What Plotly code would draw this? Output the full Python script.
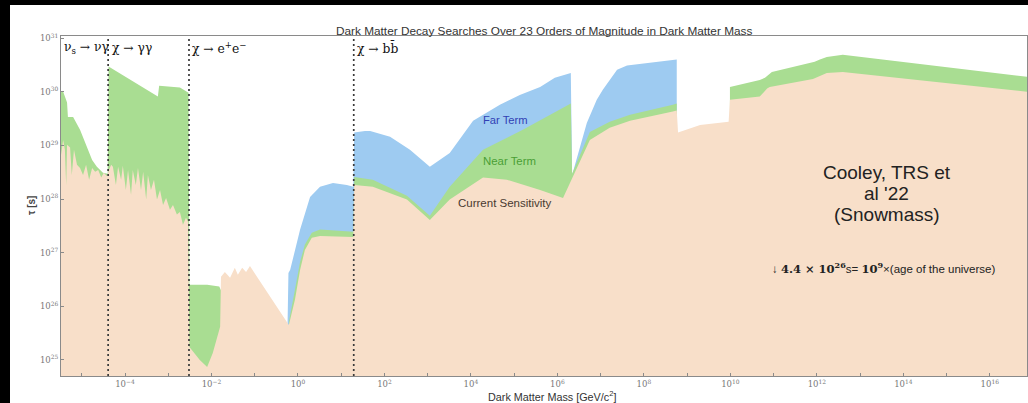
import plotly.graph_objects as go

# Lifetime reach (log10 tau [s]) versus dark matter mass (log10 m [GeV]).
# None separates disconnected pieces of a curve.

current_logm = [
    -5.48, -5.43, -5.39, -5.36, -5.34, -5.27, -5.23, -5.18, -5.11, -5.04,
    -4.97, -4.90, -4.83, -4.76, -4.69, -4.62, -4.55, -4.49, -4.42,
    -4.37, -4.32, -4.28, -4.21, -4.16, -4.09, -4.05, -3.98, -3.93, -3.86,
    -3.82, -3.75, -3.70, -3.63, -3.58, -3.51, -3.47, -3.40, -3.33, -3.26,
    -3.19, -3.12, -3.05, -2.96, -2.89, -2.80, -2.73, -2.66, -2.59, -2.54,
    -2.51, -2.27, -2.10, -1.97, -1.80, -1.78, -1.69, -1.57, -1.46, -1.39,
    -1.29, -1.20, -1.11, -0.21, -0.07, 0.05, 0.16, 0.32, 0.51, 1.20, 1.28,
    1.30, 1.73, 2.52, 3.05, 3.51, 4.28, 4.83, 5.60, 6.13, 6.36, 6.75,
    7.21, 7.68, 8.67, 8.76,
    8.79, 9.30, 9.96, 9.99, 10.68, 10.85, 10.91, 11.91, 12.23, 12.60, 16.86,
]
current_logtau = [
    28.82, 29.10, 28.92, 28.26, 29.01, 28.96, 28.45, 28.92, 28.64, 28.58,
    28.45, 28.64, 28.36, 28.58, 28.51, 28.54, 28.40, 28.49, 28.43,
    28.54, 28.64, 28.60, 28.26, 28.60, 28.36, 28.62, 28.17, 28.54, 28.08,
    28.54, 28.26, 28.58, 28.17, 28.51, 27.99, 28.45, 28.17, 28.36, 27.99,
    28.17, 27.89, 28.02, 27.80, 27.89, 27.71, 27.76, 27.52, 27.65, 27.57,
    25.24, 25.00, 24.87, 25.13, 25.62, 26.55, 26.64, 26.53, 26.72, 26.59,
    26.72, 26.64, 26.75, 25.65, 26.12, 26.68, 27.05, 27.28, 27.31, 27.29, 27.29,
    28.26, 28.23, 27.99, 27.61, 27.99, 28.40, 28.36, 28.17, 28.02, 28.43, 29.10,
    29.33, 29.46, 29.63, 29.65,
    29.24, 29.38, 29.44, 29.85, 29.91, 30.06, 30.09, 30.24, 30.35, 30.37, 30.00,
]

near_logm = [
    -5.48, -5.43, -5.36, -5.34, -5.32, -5.20, -5.04, -4.88, -4.76, -4.65,
    -4.51, -4.40, -4.38, -3.24, -3.21, -2.73, -2.57, -2.53,
    -2.51, -2.10, -1.82, -1.78, None,
    -0.21, -0.07, 0.05, 0.16, 0.32, 0.51, 1.20, 1.28,
    1.30, 1.73, 2.52, 3.05, 3.51, 4.28, 5.20, 5.83, 6.29, 6.31,
    6.34, 6.75, 7.21, 7.68, 8.67, 8.76, None,
    9.99, 10.68, 10.80, 10.96, 11.95, 12.07, 12.23, 12.60, 16.86,
]
near_logtau = [
    30.00, 30.00, 29.85, 29.80, 29.53, 29.53, 29.29, 28.97, 28.73, 28.60,
    28.49, 28.47, 30.47, 29.91, 30.11, 30.08, 30.00, 29.98,
    26.40, 26.40, 26.37, 26.30, None,
    25.71, 26.31, 26.83, 27.15, 27.37, 27.43, 27.39, 27.39,
    28.41, 28.36, 28.06, 27.69, 28.23, 28.92, 29.29, 29.57, 29.76, 29.78,
    28.47, 29.25, 29.44, 29.57, 29.76, 29.78, None,
    30.09, 30.22, 30.26, 30.37, 30.56, 30.60, 30.65, 30.69, 30.28,
]

far_logm = [
    -0.24, -0.22, -0.18, 0.05, 0.28, 0.51, 0.81, 1.13, 1.28,
    1.30, 1.55, 1.67, 2.13, 2.59, 3.05, 3.51, 4.05, 4.67, 5.13, 5.60, 5.94, 6.31,
    6.34, 6.68, 6.91, 7.05, 7.38, 7.61, 8.76,
]
far_logtau = [
    25.70, 26.62, 26.68, 27.43, 28.04, 28.23, 28.30, 28.26, 28.23,
    29.24, 29.27, 29.27, 29.16, 28.92, 28.60, 28.86, 29.46, 29.76, 29.94, 30.09, 30.26, 30.35,
    28.45, 29.42, 29.85, 30.04, 30.41, 30.49, 30.60,
]

# Channel boundaries (log10 m) and their labels
channel_edges = [-4.39, -2.52, 1.29]
channel_labels = ["ν<sub>s</sub> → νγ", "χ → γγ", "χ → e<sup>+</sup>e<sup>−</sup>", "χ → bb\u0304"]
channel_label_pos = [-5.46, -4.35, -2.49, 1.33]

x_tick_exp = list(range(-5, 17))
y_tick_exp = list(range(25, 32))

X_RANGE = [-5.48, 16.86]
Y_RANGE = [24.70, 31.04]
FLOOR = 1e23

PEACH = "rgb(248,223,201)"
GREEN = "rgb(169,221,146)"
BLUE = "rgb(158,203,241)"

PLOT_W, PLOT_H = 966, 340


def filled_region(logm, logtau):
    """Close every piece of a curve down to the floor so it fills to the bottom."""
    xs, ys, piece = [], [], []
    for m, t in list(zip(logm, logtau)) + [(None, None)]:
        if m is None:
            if piece:
                xs += [10.0 ** piece[0][0]] + [10.0 ** p[0] for p in piece] + [10.0 ** piece[-1][0], None]
                ys += [FLOOR] + [10.0 ** p[1] for p in piece] + [FLOOR, None]
            piece = []
        else:
            piece.append((m, t))
    return xs, ys


fig = go.Figure()
for name, (lm, lt), color in [
    ("Far Term", (far_logm, far_logtau), BLUE),
    ("Near Term", (near_logm, near_logtau), GREEN),
    ("Current Sensitivity", (current_logm, current_logtau), PEACH),
]:
    xs, ys = filled_region(lm, lt)
    fig.add_trace(go.Scatter(x=xs, y=ys, mode="lines", fill="toself", fillcolor=color,
                             line=dict(width=0, color=color), name=name,
                             hoverinfo="skip", showlegend=False))

for e in channel_edges:
    fig.add_trace(go.Scatter(x=[10.0 ** e, 10.0 ** e], y=[10.0 ** Y_RANGE[0], 10.0 ** Y_RANGE[1]],
                             mode="lines", line=dict(color="#3a3a3a", width=1.7, dash="2px,3px"),
                             hoverinfo="skip", showlegend=False))

serif = "DejaVu Serif, Liberation Serif, serif"
sans = "Liberation Sans, Arial, sans-serif"

ann = []
for txt, px in zip(channel_labels, channel_label_pos):
    ann.append(dict(x=px, y=30.81, xref="x", yref="y", text=txt, showarrow=False,
                    xanchor="left", yanchor="middle",
                    font=dict(family=serif, size=12.3, color="#111")))

ann += [
    dict(x=0.5, y=1.0147, xref="paper", yref="paper", showarrow=False,
         text="Dark Matter Decay Searches Over 23 Orders of Magnitude in Dark Matter Mass",
         xanchor="center", yanchor="middle", font=dict(family=sans, size=11.8, color="#333")),
    dict(x=0.508, y=-0.059, xref="paper", yref="paper", showarrow=False,
         text="Dark Matter Mass [GeV/c<sup>2</sup>]",
         xanchor="center", yanchor="middle", font=dict(family=sans, size=10.8, color="#333")),
    dict(x=-0.031, y=0.5, xref="paper", yref="paper", showarrow=False, textangle=-90,
         text="<b>τ [s]</b>", xanchor="center", yanchor="middle",
         font=dict(family=sans, size=10, color="#444")),
    dict(x=4.81, y=29.48, xref="x", yref="y", showarrow=False, text="Far Term",
         font=dict(family=sans, size=11.2, color="#3140b4")),
    dict(x=4.90, y=28.71, xref="x", yref="y", showarrow=False, text="Near Term",
         font=dict(family=sans, size=11.4, color="#4a9f35")),
    dict(x=4.79, y=27.93, xref="x", yref="y", showarrow=False, text="Current Sensitivity",
         font=dict(family=sans, size=11.5, color="#4a3a30")),
    dict(x=13.53, y=26.72, xref="x", yref="y", showarrow=False,
         text="↓ <span style='font-family:DejaVu Serif'><b>4.4 × 10<sup>26</sup></b></span>s= "
              "<span style='font-family:DejaVu Serif'><b>10<sup>9</sup></b></span>×(age of the universe)",
         font=dict(family=sans, size=11.5, color="#222")),
]
for line, t in zip(["Cooley, TRS et", "al '22", "(Snowmass)"], [28.49, 28.10, 27.71]):
    ann.append(dict(x=13.62, y=t, xref="x", yref="y", showarrow=False, text=line,
                    font=dict(family=sans, size=19, color="#222")))

# White sheet on a black page, leaving a dark band along the top and left edges
shapes = [
    dict(type="rect", xref="paper", yref="paper", x0=(10 - 61) / PLOT_W, x1=1 + 2 / PLOT_W,
         y0=-28 / PLOT_H, y1=(376 - 5) / PLOT_H,
         fillcolor="white", line=dict(width=0), layer="below"),
]

fig.update_layout(
    width=1028, height=403,
    margin=dict(l=61, r=1, t=36, b=27),
    paper_bgcolor="black", plot_bgcolor="white",
    annotations=ann, shapes=shapes, showlegend=False,
)
fig.update_xaxes(
    type="log", range=X_RANGE, showgrid=False, zeroline=False,
    showline=True, linecolor="#8a8a8a", linewidth=1, mirror=True,
    ticks="inside", ticklen=3, tickcolor="#8a8a8a",
    tickmode="array", tickvals=[10.0 ** k for k in x_tick_exp],
    ticktext=[f"10<sup>{k}</sup>".replace("-", "−") if k % 2 == 0 else "" for k in x_tick_exp],
    tickfont=dict(family=serif, size=8.5, color="#777"),
)
fig.update_yaxes(
    type="log", range=Y_RANGE, showgrid=False, zeroline=False,
    showline=True, linecolor="#8a8a8a", linewidth=1, mirror=True,
    ticks="inside", ticklen=3, tickcolor="#8a8a8a",
    tickmode="array", tickvals=[10.0 ** k for k in y_tick_exp],
    ticktext=[f"10<sup>{k}</sup>" for k in y_tick_exp],
    tickfont=dict(family=serif, size=8.5, color="#777"),
)

fig.write_html("out.html")
